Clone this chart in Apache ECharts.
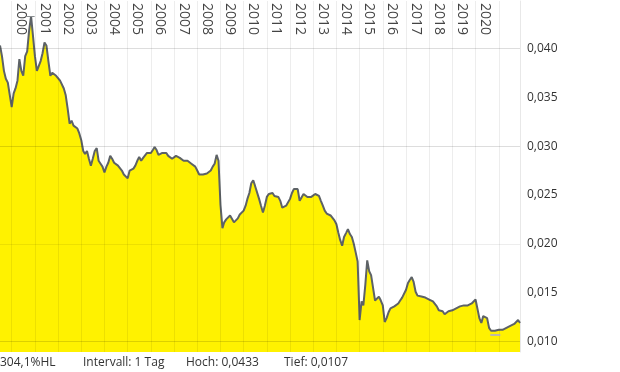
<!DOCTYPE html>
<html><head><meta charset="utf-8">
<script src="https://cdn.jsdelivr.net/npm/echarts@6/dist/echarts.min.js"></script>
<style>html,body{margin:0;padding:0;background:#fff}#c{width:620px;height:372px}</style>
</head><body><div id="c"></div>
<script>
// monthly values (1st of each month)
const startYear = 1999, startMonth = 7;
const v1999 = [0.0403, 0.0392, 0.0377, 0.0369, 0.0365, 0.0367];
const v2000 = [0.0340, 0.0354, 0.0359, 0.0367, 0.0389, 0.0377, 0.0372, 0.0392, 0.0397, 0.0418, 0.0433, 0.0413];
const v2001 = [0.0392, 0.0377, 0.0375, 0.0387, 0.0395, 0.0406, 0.0403, 0.0387, 0.0372, 0.0375, 0.0377, 0.0372];
const v2002 = [0.0372, 0.0367, 0.0367, 0.0359, 0.0352, 0.0338, 0.0323, 0.0326, 0.0321, 0.0323, 0.0318, 0.0313];
const v2003 = [0.0306, 0.0295, 0.0292, 0.0295, 0.0287, 0.0280, 0.0287, 0.0295, 0.0298, 0.0285, 0.0282, 0.0279];
const v2004 = [0.0273, 0.0279, 0.0283, 0.0290, 0.0287, 0.0283, 0.0282, 0.0280, 0.0282, 0.0275, 0.0271, 0.0269];
const v2005 = [0.0267, 0.0275, 0.0275, 0.0277, 0.0280, 0.0285, 0.0289, 0.0285, 0.0288, 0.0289, 0.0293, 0.0293];
const v2006 = [0.0293, 0.0296, 0.0299, 0.0296, 0.0291, 0.0291, 0.0293, 0.0294, 0.0293, 0.0290, 0.0289, 0.0287];
const v2007 = [0.0289, 0.0290, 0.0290, 0.0288, 0.0286, 0.0285, 0.0286, 0.0285, 0.0283, 0.0282, 0.0280, 0.0279];
const v2008 = [0.0275, 0.0271, 0.0270, 0.0271, 0.0271, 0.0272, 0.0272, 0.0275, 0.0279, 0.0282, 0.0291, 0.0285];
const v2009 = [0.0240, 0.0216, 0.0222, 0.0225, 0.0227, 0.0229, 0.0228, 0.0222, 0.0224, 0.0226, 0.0230, 0.0231];
const v2010 = [0.0234, 0.0239, 0.0246, 0.0252, 0.0262, 0.0265, 0.0259, 0.0257, 0.0246, 0.0239, 0.0232, 0.0239];
const v2011 = [0.0248, 0.0251, 0.0251, 0.0252, 0.0249, 0.0251, 0.0248, 0.0244, 0.0237, 0.0236, 0.0239, 0.0240];
const v2012 = [0.0246, 0.0252, 0.0256, 0.0258, 0.0256, 0.0244, 0.0246, 0.0251, 0.0249, 0.0248, 0.0249, 0.0248];
const v2013 = [0.0248, 0.0251, 0.0252, 0.0249, 0.0244, 0.0239, 0.0234, 0.0231, 0.0230, 0.0229, 0.0227, 0.0224];
const v2014 = [0.0220, 0.0211, 0.0204, 0.0198, 0.0207, 0.0211, 0.0215, 0.0210, 0.0207, 0.0200, 0.0191, 0.0182];
const v2015 = [0.0122, 0.0141, 0.0137, 0.0158, 0.0183, 0.0172, 0.0168, 0.0155, 0.0142, 0.0141, 0.0146, 0.0142];
const v2016 = [0.0137, 0.0120, 0.0124, 0.0130, 0.0134, 0.0132, 0.0136, 0.0137, 0.0139, 0.0142, 0.0145, 0.0147];
const v2017 = [0.0153, 0.0160, 0.0163, 0.0166, 0.0161, 0.0151, 0.0147, 0.0145, 0.0146, 0.0147, 0.0145, 0.0146];
const v2018 = [0.0143, 0.0141, 0.0141, 0.0139, 0.0136, 0.0132, 0.0132, 0.0131, 0.0128, 0.0129, 0.0131, 0.0132];
const v2019 = [0.0132, 0.0133, 0.0134, 0.0136, 0.0136, 0.0136, 0.0137, 0.0137, 0.0137, 0.0139, 0.0139, 0.0140];
const v2020 = [0.0143, 0.0144, 0.0124, 0.0119, 0.0126, 0.0127, 0.0124, 0.0114, 0.0111, 0.0111, 0.0111, 0.0112];
const v2021 = [0.0112, 0.0113, 0.0112, 0.0114, 0.0114, 0.0115, 0.0116, 0.0116, 0.0118, 0.0118, 0.0122, 0.0119];

const yearLabels = ['2000','2001','2002','2003','2004','2005','2006','2007','2008','2009','2010',
                    '2011','2012','2013','2014','2015','2016','2017','2018','2019','2020'];
const gridYears = [2000,2001,2002,2003,2004,2005,2006,2007,2008,2009,2010,2011,2012,2013,2014,2015,2016,2017,2018,2019,2020,2021];
const yTicks = [0.010, 0.015, 0.020, 0.025, 0.030, 0.035, 0.040];
const hoch = 0.0433, tief = 0.0107;
const infoTexts = ['304,1%HL', 'Intervall: 1 Tag', 'Hoch: 0,0433', 'Tief: 0,0107'];

const values = [].concat(v1999, v2000, v2001, v2002, v2003, v2004, v2005, v2006, v2007, v2008, v2009,
  v2010, v2011, v2012, v2013, v2014, v2015, v2016, v2017, v2018, v2019, v2020, v2021);
const data = values.map((v, i) => {
  const m = startMonth - 1 + i;
  return [+new Date(startYear + Math.floor(m / 12), m % 12, 1), v];
});
const xMin = data[0][0], xMax = data[data.length - 1][0];

const FONT = '"Open Sans", "Noto Sans", sans-serif';
const chart = echarts.init(document.getElementById('c'), null, {renderer: 'canvas'});
const infoX = [0, 83, 186, 284];

chart.setOption({
  animation: false,
  grid: {left: 0, right: 100, top: 0, bottom: 20, containLabel: false},
  xAxis: {
    type: 'value', min: xMin, max: xMax, position: 'top',
    axisLine: {show: false}, axisTick: {show: false}, splitLine: {show: false},
    axisLabel: {
      inside: true, rotate: 90, margin: 2, fontSize: 14, color: '#444', fontFamily: FONT,
      customValues: yearLabels.map(y => +new Date(+y, 5, 1)),
      formatter: v => String(new Date(v).getFullYear()),
      hideOverlap: false
    }
  },
  yAxis: {
    type: 'value', position: 'right', min: 0.00893, max: 0.04485,
    axisLine: {show: true, lineStyle: {color: '#e8e8e8', width: 1}},
    axisTick: {show: false}, splitLine: {show: false},
    axisLabel: {
      margin: 7, fontSize: 12, color: '#333', fontFamily: FONT,
      customValues: yTicks,
      formatter: v => v.toFixed(3).replace('.', ',')
    }
  },
  series: [{
    type: 'line', data: data, showSymbol: false, symbol: 'none',
    lineStyle: {color: '#5d6266', width: 2},
    areaStyle: {color: '#fff200', opacity: 1},
    markLine: {
      silent: true, symbol: ['none', 'none'], animation: false,
      label: {show: false},
      lineStyle: {color: 'rgba(0,0,0,0.07)', width: 1, type: 'solid'},
      data: [
        ...gridYears.map(y => ({xAxis: +new Date(y, 0, 1)})),
        ...yTicks.map(v => ({yAxis: v})),
        [{coord: [+new Date(2000, 7, 20), hoch], lineStyle: {color: '#8a8e91', width: 1, type: 'solid'}},
         {coord: [+new Date(2000, 11, 28), hoch]}],
        [{coord: [+new Date(2020, 7, 20), tief], lineStyle: {color: '#a9a6e0', width: 1.5, type: 'solid'}},
         {coord: [+new Date(2021, 0, 25), tief]}]
      ]
    }
  }],
  graphic: infoTexts.map((t, i) => ({
    type: 'text', x: infoX[i], y: 363,
    style: {text: t, fill: '#333', font: '12px ' + FONT, verticalAlign: 'middle', align: 'left'}
  }))
});
</script></body></html>
